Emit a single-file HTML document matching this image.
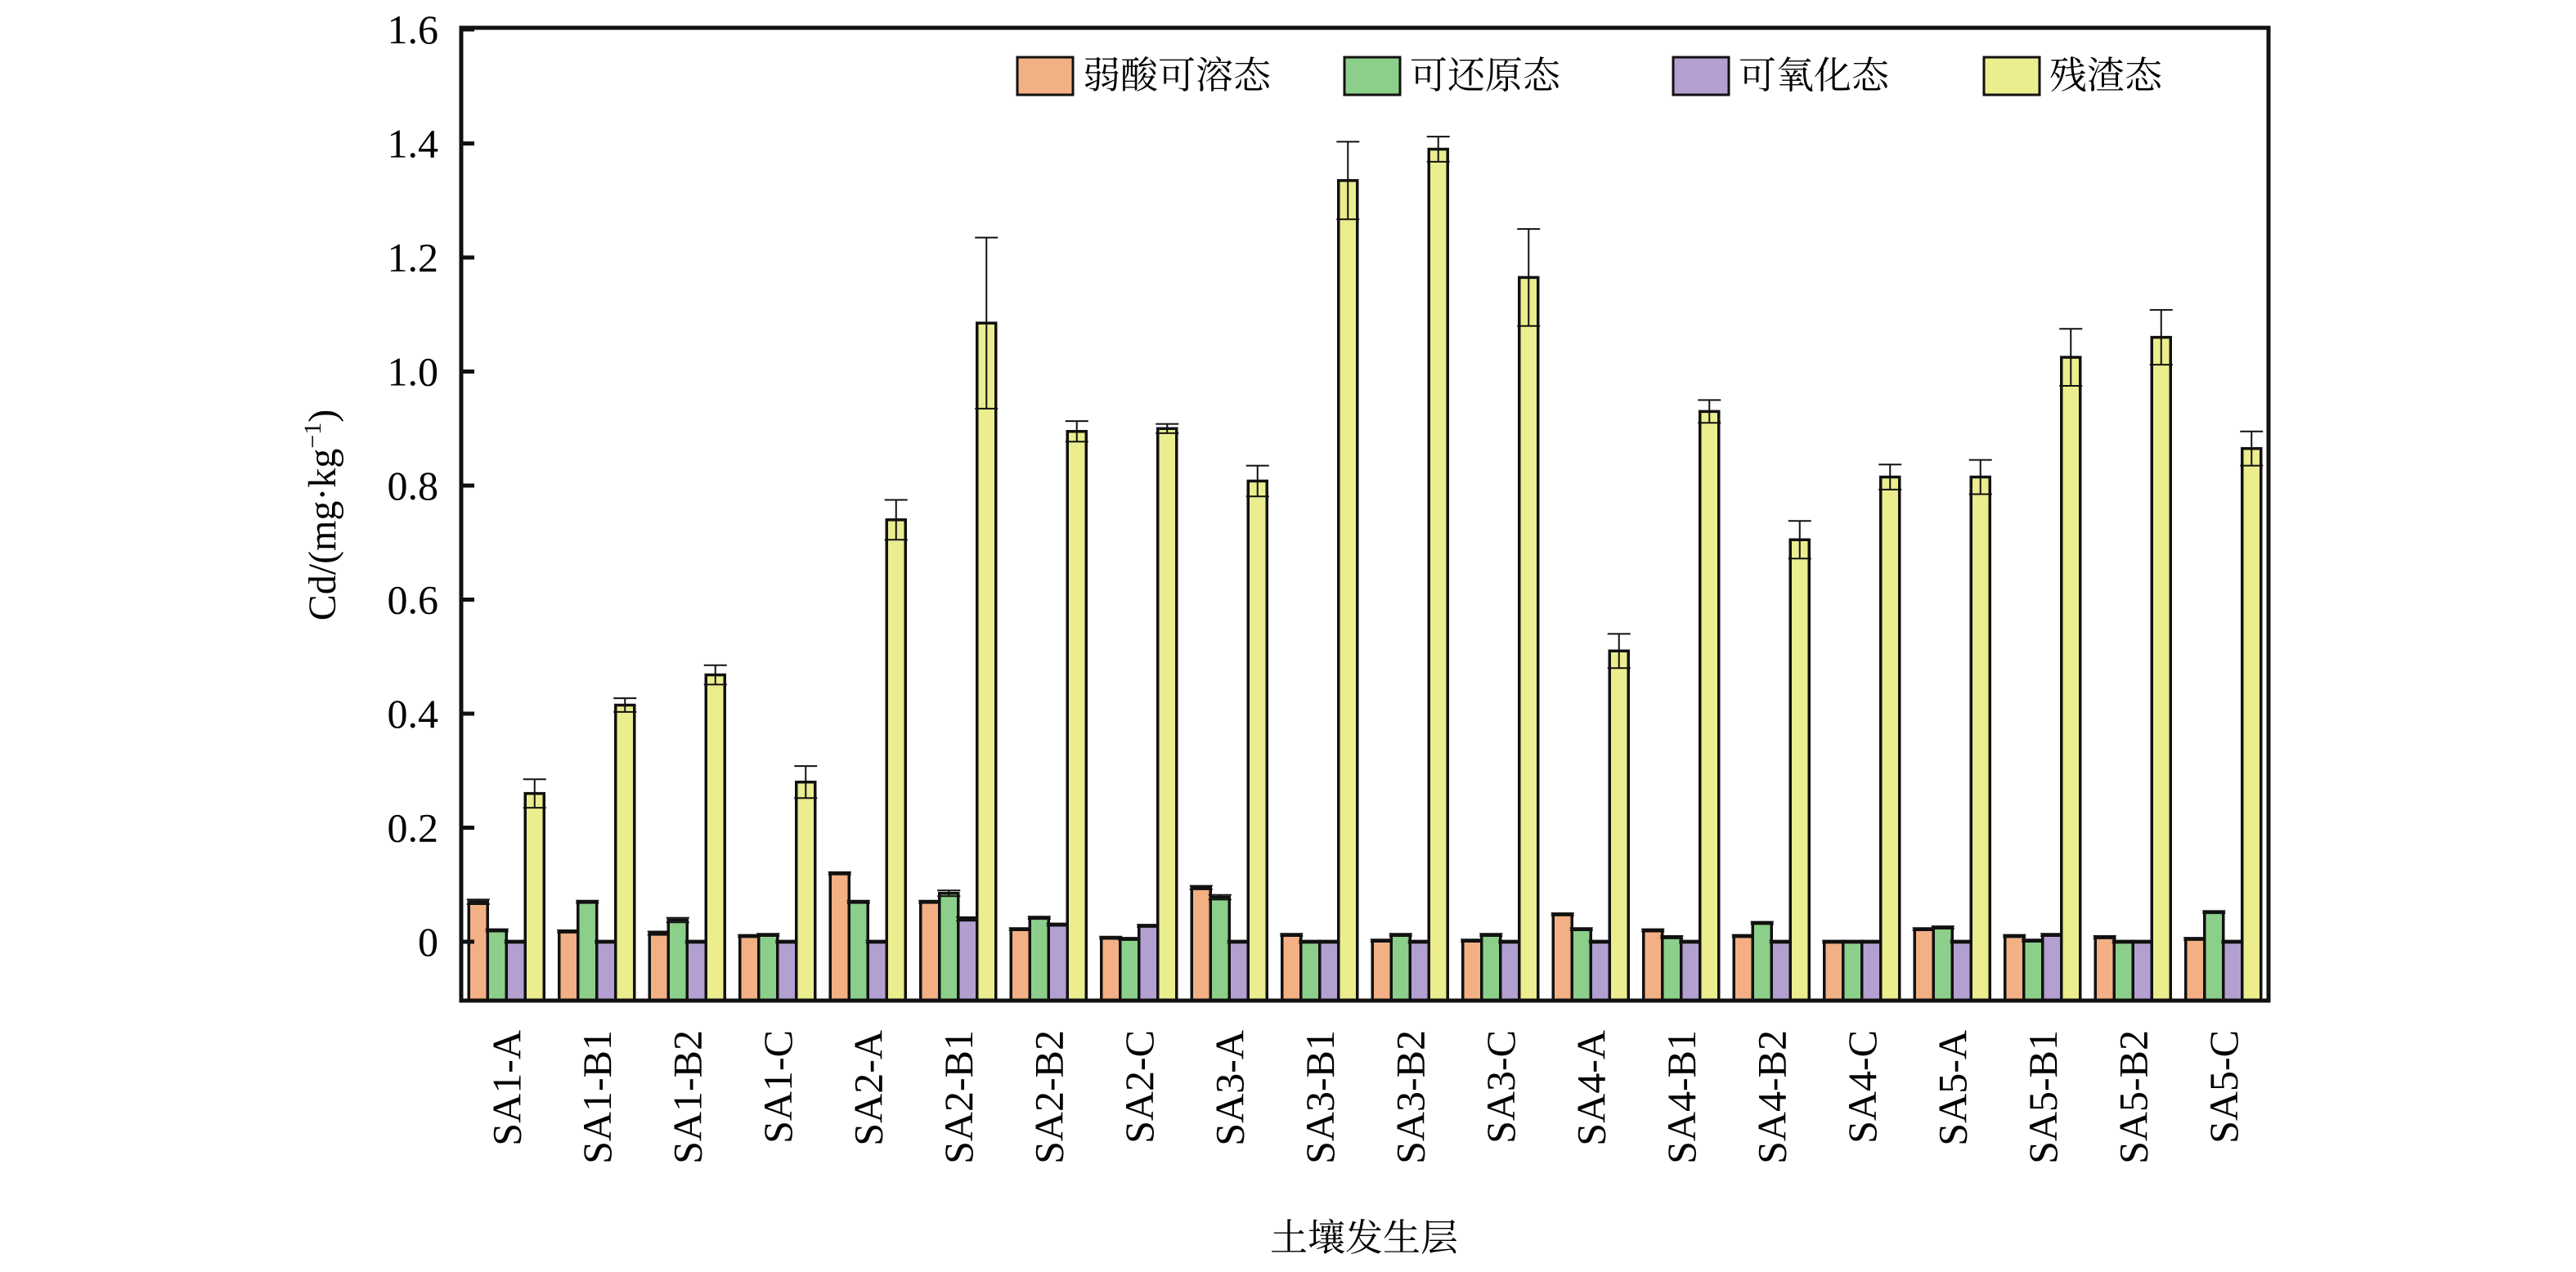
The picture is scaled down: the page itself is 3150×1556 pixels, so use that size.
<!DOCTYPE html>
<html><head><meta charset="utf-8"><style>
html,body{margin:0;padding:0;background:#fff;}
svg{display:block;font-family:"Liberation Serif","Noto Serif CJK SC",serif;}
</style></head><body>
<svg id="chart" width="3150" height="1556" viewBox="0 0 3150 1556" xmlns="http://www.w3.org/2000/svg">
<g id="bars"></g>
<g id="axes"></g>
<g id="legend"></g>
<text transform="translate(410,630) rotate(-90)" text-anchor="middle" font-size="48">Cd/(mg·kg<tspan font-size="30" dy="-18">−1</tspan><tspan dy="18">)</tspan></text>
<text x="1668" y="1530" text-anchor="middle" font-size="46">土壤发生层</text>
</svg>
<script>
const categories=["SA1-A","SA1-B1","SA1-B2","SA1-C","SA2-A","SA2-B1","SA2-B2","SA2-C","SA3-A","SA3-B1","SA3-B2","SA3-C","SA4-A","SA4-B1","SA4-B2","SA4-C","SA5-A","SA5-B1","SA5-B2","SA5-C"];
const seriesNames=["弱酸可溶态","可还原态","可氧化态","残渣态"];
const acidSoluble=[0.07,0.018,0.015,0.01,0.12,0.07,0.022,0.007,0.095,0.012,0.002,0.002,0.048,0.02,0.01,0,0.022,0.01,0.008,0.005];
const reducible=[0.02,0.07,0.038,0.012,0.07,0.085,0.042,0.005,0.078,0,0.012,0.012,0.022,0.008,0.033,0,0.025,0.002,0,0.052];
const oxidizable=[0,0,0,0,0,0.04,0.03,0.028,0,0,0,0,0,0,0,0,0,0.012,0,0];
const residual=[0.26,0.415,0.468,0.28,0.74,1.085,0.895,0.9,0.808,1.335,1.39,1.165,0.51,0.93,0.705,0.815,0.815,1.025,1.06,0.865];
const acidErr=[0.004,0.002,0.003,0.002,0.002,0.002,0.002,0.002,0.003,0.002,0.002,0.002,0.002,0.002,0.002,0.002,0.002,0.002,0.002,0.002];
const reducErr=[0.002,0.002,0.004,0.002,0.002,0.005,0.002,0.002,0.004,0.002,0.002,0.002,0.002,0.002,0.002,0.002,0.002,0.002,0.002,0.002];
const oxidErr=[0.002,0.002,0.002,0.002,0.002,0.003,0.002,0.002,0.002,0.002,0.002,0.002,0.002,0.002,0.002,0.002,0.002,0.002,0.002,0.002];
const residErr=[0.025,0.012,0.017,0.028,0.035,0.15,0.018,0.008,0.027,0.068,0.022,0.085,0.03,0.02,0.033,0.022,0.03,0.05,0.048,0.03];
const yTicks=[0,0.2,0.4,0.6,0.8,1.0,1.2,1.4,1.6];
const yTickLabels=["0","0.2","0.4","0.6","0.8","1.0","1.2","1.4","1.6"];
const colors=["#f2b084","#8ccf8a","#b3a0d1","#ebed8e"];

const NS="http://www.w3.org/2000/svg";
const L=564,R=2774,T=34,B=1224,Y0=1152,PPU=697.5;
const yMin=(Y0-B)/PPU;
function ys(v){return Y0-v*PPU;}
const gw=(R-L)/categories.length;
const bw=23;
function xs(i,s){return L+i*gw+9.25+s*bw;}
function mk(tag,attrs,parent){const e=document.createElementNS(NS,tag);for(const k in attrs)e.setAttribute(k,attrs[k]);parent.appendChild(e);return e;}
const barsG=document.getElementById('bars'),axesG=document.getElementById('axes'),legG=document.getElementById('legend');
const vals=[acidSoluble,reducible,oxidizable,residual];
const errs=[acidErr,reducErr,oxidErr,residErr];
const keys=["acid-soluble","reducible","oxidizable","residual"];
categories.forEach((c,i)=>{
  for(let s=0;s<4;s++){
    const v=vals[s][i],e=errs[s][i],x=xs(i,s);
    const r=mk('rect',{x:x,y:ys(v),width:bw,height:B-ys(v),fill:colors[s],stroke:'#111','stroke-width':3.5},barsG);
    
    
    const cx=x+bw/2;
    const eb=mk('path',{d:`M${cx},${ys(v+e)}V${ys(v-e)}M${cx-14},${ys(v+e)}H${cx+14}M${cx-14},${ys(v-e)}H${cx+14}`,stroke:'#111','stroke-width':2,fill:'none'},barsG);
    
    
  }
  const t=mk('text',{transform:`translate(${L+(i+0.5)*gw+17},1260) rotate(-90)`,'text-anchor':'end','font-size':50},axesG);
  t.textContent=c;
  
  
});
const frame=mk('rect',{x:L,y:T,width:R-L,height:B-T,fill:'none',stroke:'#111','stroke-width':5},axesG);


yTicks.forEach((v,k)=>{
  const tk=mk('line',{x1:L,x2:L+16,y1:ys(v),y2:ys(v),stroke:'#111','stroke-width':5},axesG);
  
  
  const tl=mk('text',{x:L-28,y:ys(v)+17,'text-anchor':'end','font-size':50},axesG);
  tl.textContent=yTickLabels[k];
  
  
});
const legX=[1244,1644,2046,2426];
seriesNames.forEach((n,s)=>{
  const b=mk('rect',{x:legX[s],y:70,width:68,height:46,fill:colors[s],stroke:'#111','stroke-width':3},legG);
  
  
  const t=mk('text',{x:legX[s]+80,y:108,'font-size':46},legG);
  t.textContent=n;
  
  
});
</script>
</body></html>
